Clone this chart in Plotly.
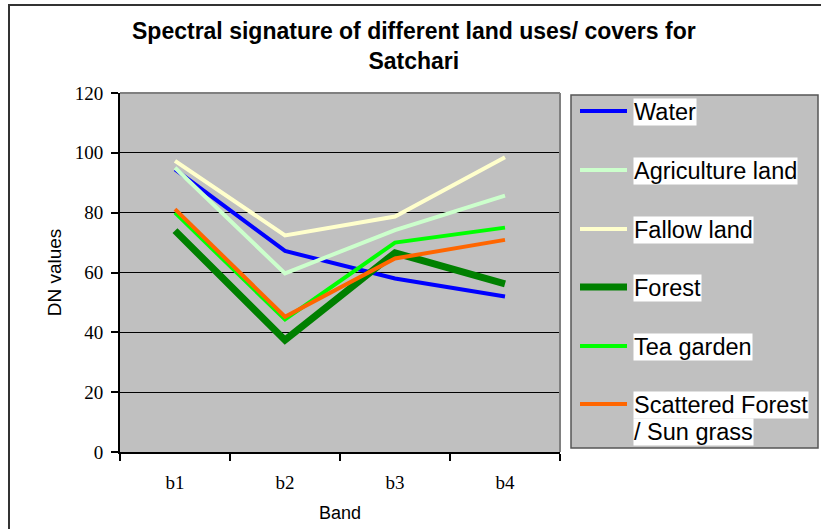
import plotly.graph_objects as go

# Spectral signature (DN values) per band for each land use / cover class
bands = ["b1", "b2", "b3", "b4"]
water = [94.5, 67.2, 58.0, 52.0]
agriculture = [95.0, 59.7, 74.2, 85.7]
fallow = [97.3, 72.4, 78.7, 98.5]
forest = [74.0, 37.4, 66.6, 56.2]
tea_garden = [80.0, 44.3, 70.0, 75.0]
scattered = [81.2, 45.2, 64.7, 70.9]

series_names = ["Water", "Agriculture land", "Fallow land", "Forest",
                "Tea garden", "Scattered Forest<br>/ Sun grass"]
series_values = [water, agriculture, fallow, forest, tea_garden, scattered]
series_colors = ["#0000FF", "#CCFFCC", "#FFFFCC", "#008000", "#00FF00", "#FF6600"]
series_widths = [4, 4, 4, 7, 4, 4]

W, H = 821, 529
PL, PR, PT, PB = 120, 560, 93, 452  # plot area in pixels


def px_x(px):
    return (px - PL) / (PR - PL)


def px_y(py):
    return (PB - py) / (PB - PT)


SANS = "Arial, Liberation Sans, sans-serif"
SERIF = "Times New Roman, Liberation Serif, serif"

fig = go.Figure()
for name, vals, col, lw in zip(series_names, series_values, series_colors, series_widths):
    fig.add_trace(go.Scatter(
        x=bands, y=vals, mode="lines", name=name.replace("<br>", " "),
        line=dict(color=col, width=lw), showlegend=False,
    ))

shapes = []
annotations = []

# outer chart frame
shapes.append(dict(type="rect", xref="paper", yref="paper",
                   x0=px_x(9), x1=px_x(835), y0=px_y(540), y1=px_y(5),
                   line=dict(color="#333333", width=2), fillcolor="rgba(0,0,0,0)",
                   layer="below"))
# top and right border of the plot area
shapes.append(dict(type="line", xref="paper", yref="paper", x0=0, x1=1, y0=1, y1=1,
                   line=dict(color="#808080", width=2)))
shapes.append(dict(type="line", xref="paper", yref="paper", x0=1, x1=1, y0=0, y1=1,
                   line=dict(color="#808080", width=2)))

# legend box
shapes.append(dict(type="rect", xref="paper", yref="paper",
                   x0=px_x(571), x1=px_x(818), y0=px_y(448), y1=px_y(95),
                   line=dict(color="#555555", width=1.5), fillcolor="#C0C0C0"))

row_y = [111, 170, 229, 287, 346, 404]
for i, (name, col, lw) in enumerate(zip(series_names, series_colors, series_widths)):
    yy = row_y[i]
    shapes.append(dict(type="line", xref="paper", yref="paper",
                       x0=px_x(580), x1=px_x(627), y0=px_y(yy), y1=px_y(yy),
                       line=dict(color=col, width=lw)))
    for j, part in enumerate(name.split("<br>")):
        annotations.append(dict(
            xref="paper", yref="paper", x=px_x(633), y=px_y(yy + 1 + j * 27),
            xanchor="left", yanchor="middle", showarrow=False, text=part,
            bgcolor="white", borderpad=0, font=dict(family=SANS, size=23.5, color="black"),
        ))

# title
annotations.append(dict(
    xref="paper", yref="paper", x=px_x(414), y=px_y(46),
    xanchor="center", yanchor="middle", showarrow=False,
    text="<b>Spectral signature of different land uses/ covers for<br>Satchari</b>",
    font=dict(family=SANS, size=23, color="black"),
))

fig.update_layout(
    width=W, height=H,
    margin=dict(l=PL, r=W - PR, t=PT, b=H - PB),
    paper_bgcolor="white", plot_bgcolor="#C0C0C0",
    shapes=shapes, annotations=annotations,
    xaxis=dict(
        type="category", categoryorder="array", categoryarray=bands,
        range=[-0.5, 3.5], tickson="boundaries", ticks="outside", ticklen=7,
        tickcolor="black", tickwidth=1.5, showgrid=False, automargin=False,
        showline=True, linecolor="black", linewidth=2, zeroline=False,
        tickfont=dict(family=SERIF, size=19, color="black"), ticklabelstandoff=12,
        title=dict(text="Band", font=dict(family=SANS, size=18, color="black"), standoff=15),
    ),
    yaxis=dict(
        range=[0, 120], dtick=20, ticks="outside", ticklen=7, tickcolor="black",
        tickwidth=1.5, showgrid=True, gridcolor="black", gridwidth=1, automargin=False,
        showline=True, linecolor="black", linewidth=2, zeroline=False,
        tickfont=dict(family=SERIF, size=19, color="black"), ticklabelstandoff=4,
        title=dict(text="DN values", font=dict(family=SANS, size=19, color="black"), standoff=8),
    ),
)

fig.write_html("out.html")
